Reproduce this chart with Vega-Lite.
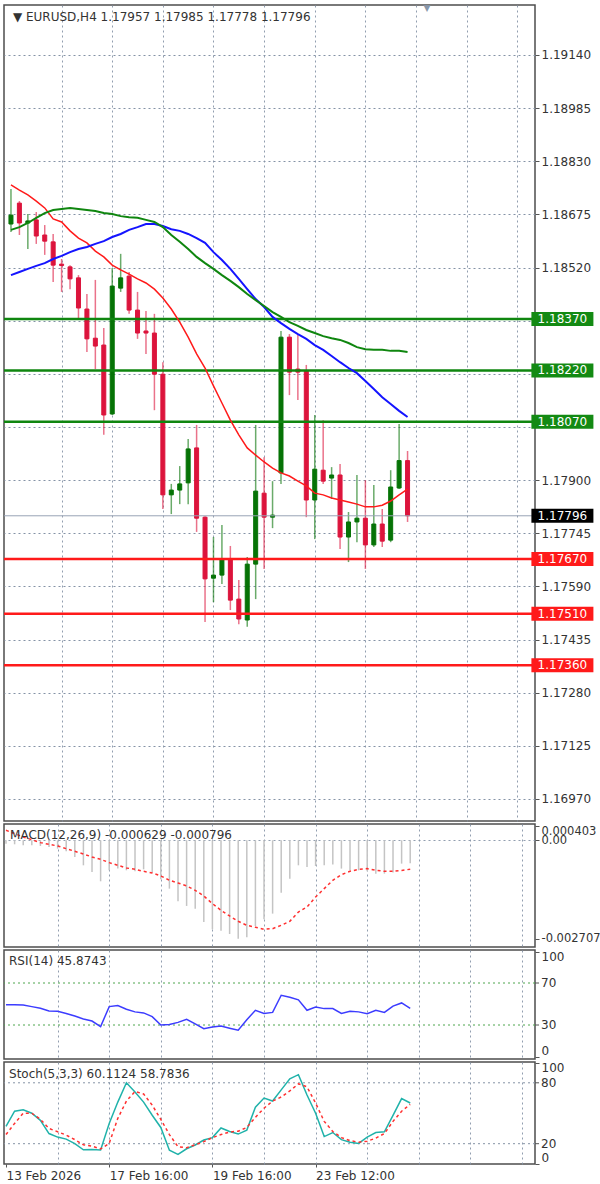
{
  "$schema": "https://vega.github.io/schema/vega-lite/v6.json",
  "background": "white",
  "padding": {"left": 2, "top": 3, "right": 0, "bottom": 0},
  "spacing": 3,
  "bounds": "flush",
  "config": {
    "view": {"stroke": "#4d4d4d", "strokeWidth": 1.5},
    "font": "DejaVu Sans",
    "axis": {
      "labelFont": "DejaVu Sans", "labelFontSize": 12, "labelColor": "#333333",
      "title": null, "domain": false, "gridColor": "#8593a6", "gridDash": [2, 3],
      "gridWidth": 1, "tickColor": "#555555", "tickSize": 4, "labelPadding": 2
    }
  },
  "datasets": {
    "bars": [
      {"i":0,"open":1.18647,"high":1.18749,"low":1.18624,"close":1.18673,"maRed":1.18761,"maBlue":1.18498,"maGreen":1.18630,"macd":-0.000092,"signal":0.000275,"rsi":49.3,"k":37,"d":29},
      {"i":1,"open":1.18708,"high":1.18714,"low":1.18615,"close":1.18650,"maRed":1.18746,"maBlue":1.18507,"maGreen":1.18638,"macd":-0.000110,"signal":0.000183,"rsi":49.3,"k":52,"d":40},
      {"i":2,"open":1.18650,"high":1.18676,"low":1.18574,"close":1.18656,"maRed":1.18732,"maBlue":1.18516,"maGreen":1.18650,"macd":-0.000138,"signal":0.000092,"rsi":49.0,"k":53.5,"d":50},
      {"i":3,"open":1.18659,"high":1.18682,"low":1.18589,"close":1.18612,"maRed":1.18714,"maBlue":1.18525,"maGreen":1.18665,"macd":-0.000138,"signal":0.000018,"rsi":47.5,"k":50,"d":50},
      {"i":4,"open":1.18615,"high":1.18644,"low":1.18557,"close":1.18597,"maRed":1.18694,"maBlue":1.18533,"maGreen":1.18679,"macd":-0.000156,"signal":-0.000064,"rsi":46.0,"k":43,"d":44},
      {"i":5,"open":1.18595,"high":1.18618,"low":1.18478,"close":1.18527,"maRed":1.18662,"maBlue":1.18545,"maGreen":1.18688,"macd":-0.000183,"signal":-0.000110,"rsi":43.3,"k":30,"d":35},
      {"i":6,"open":1.18530,"high":1.18545,"low":1.18449,"close":1.18526,"maRed":1.18653,"maBlue":1.18554,"maGreen":1.18691,"macd":-0.000229,"signal":-0.000156,"rsi":43.0,"k":26.5,"d":31.8},
      {"i":7,"open":1.18522,"high":1.18527,"low":1.18457,"close":1.18487,"maRed":1.18627,"maBlue":1.18565,"maGreen":1.18694,"macd":-0.000303,"signal":-0.000229,"rsi":41.0,"k":24.5,"d":28.5},
      {"i":8,"open":1.18490,"high":1.18498,"low":1.18367,"close":1.18402,"maRed":1.18606,"maBlue":1.18574,"maGreen":1.18691,"macd":-0.000459,"signal":-0.000303,"rsi":38.5,"k":20,"d":24},
      {"i":9,"open":1.18399,"high":1.18443,"low":1.18274,"close":1.18312,"maRed":1.18592,"maBlue":1.18580,"maGreen":1.18688,"macd":-0.000688,"signal":-0.000376,"rsi":35.8,"k":14,"d":19},
      {"i":10,"open":1.18314,"high":1.18484,"low":1.18224,"close":1.18291,"maRed":1.18568,"maBlue":1.18589,"maGreen":1.18685,"macd":-0.000871,"signal":-0.000459,"rsi":33.8,"k":14.4,"d":17.7},
      {"i":11,"open":1.18294,"high":1.18344,"low":1.18032,"close":1.18090,"maRed":1.18551,"maBlue":1.18597,"maGreen":1.18679,"macd":-0.001128,"signal":-0.000523,"rsi":28.5,"k":13.8,"d":14.8},
      {"i":12,"open":1.18093,"high":1.18519,"low":1.18090,"close":1.18466,"maRed":1.18527,"maBlue":1.18609,"maGreen":1.18676,"macd":-0.000825,"signal":-0.000614,"rsi":47.5,"k":40,"d":20.3},
      {"i":13,"open":1.18460,"high":1.18560,"low":1.18449,"close":1.18490,"maRed":1.18513,"maBlue":1.18618,"maGreen":1.18670,"macd":-0.000779,"signal":-0.000688,"rsi":48.5,"k":61,"d":45},
      {"i":14,"open":1.18495,"high":1.18507,"low":1.18385,"close":1.18396,"maRed":1.18501,"maBlue":1.18630,"maGreen":1.18667,"macd":-0.000825,"signal":-0.000761,"rsi":45.0,"k":80,"d":62},
      {"i":15,"open":1.18396,"high":1.18449,"low":1.18312,"close":1.18329,"maRed":1.18487,"maBlue":1.18638,"maGreen":1.18665,"macd":-0.000853,"signal":-0.000798,"rsi":42.5,"k":71,"d":71.5},
      {"i":16,"open":1.18335,"high":1.18393,"low":1.18268,"close":1.18329,"maRed":1.18475,"maBlue":1.18647,"maGreen":1.18659,"macd":-0.000798,"signal":-0.000853,"rsi":41.5,"k":61,"d":69},
      {"i":17,"open":1.18329,"high":1.18385,"low":1.18104,"close":1.18209,"maRed":1.18457,"maBlue":1.18647,"maGreen":1.18653,"macd":-0.000889,"signal":-0.000899,"rsi":38.0,"k":48,"d":58},
      {"i":18,"open":1.18209,"high":1.18244,"low":1.17816,"close":1.17857,"maRed":1.18431,"maBlue":1.18641,"maGreen":1.18638,"macd":-0.001073,"signal":-0.000981,"rsi":30.0,"k":36,"d":44},
      {"i":19,"open":1.17857,"high":1.17889,"low":1.17801,"close":1.17871,"maRed":1.18399,"maBlue":1.18632,"maGreen":1.18615,"macd":-0.001330,"signal":-0.001100,"rsi":30.5,"k":13.5,"d":29},
      {"i":20,"open":1.17871,"high":1.17941,"low":1.17830,"close":1.17889,"maRed":1.18361,"maBlue":1.18627,"maGreen":1.18595,"macd":-0.001678,"signal":-0.001174,"rsi":32.5,"k":9.5,"d":17},
      {"i":21,"open":1.17892,"high":1.18020,"low":1.17830,"close":1.17991,"maRed":1.18317,"maBlue":1.18618,"maGreen":1.18574,"macd":-0.001806,"signal":-0.001256,"rsi":35.5,"k":15,"d":16},
      {"i":22,"open":1.17994,"high":1.18061,"low":1.17749,"close":1.17789,"maRed":1.18268,"maBlue":1.18606,"maGreen":1.18551,"macd":-0.001880,"signal":-0.001376,"rsi":31.0,"k":18.7,"d":19},
      {"i":23,"open":1.17792,"high":1.17795,"low":1.17486,"close":1.17612,"maRed":1.18227,"maBlue":1.18592,"maGreen":1.18533,"macd":-0.002247,"signal":-0.001531,"rsi":26.5,"k":23.6,"d":22},
      {"i":24,"open":1.17614,"high":1.17734,"low":1.17544,"close":1.17623,"maRed":1.18175,"maBlue":1.18565,"maGreen":1.18516,"macd":-0.002448,"signal":-0.001742,"rsi":28.0,"k":26,"d":26},
      {"i":25,"open":1.17623,"high":1.17769,"low":1.17597,"close":1.17670,"maRed":1.18125,"maBlue":1.18542,"maGreen":1.18498,"macd":-0.002485,"signal":-0.001926,"rsi":29.0,"k":35.5,"d":29},
      {"i":26,"open":1.17670,"high":1.17708,"low":1.17521,"close":1.17550,"maRed":1.18075,"maBlue":1.18516,"maGreen":1.18481,"macd":-0.002577,"signal":-0.002082,"rsi":27.0,"k":32,"d":31.5},
      {"i":27,"open":1.17553,"high":1.17609,"low":1.17480,"close":1.17495,"maRed":1.18032,"maBlue":1.18487,"maGreen":1.18463,"macd":-0.002705,"signal":-0.002228,"rsi":25.0,"k":29.5,"d":32.3},
      {"i":28,"open":1.17492,"high":1.17676,"low":1.17472,"close":1.17655,"maRed":1.17994,"maBlue":1.18457,"maGreen":1.18443,"macd":-0.002668,"signal":-0.002338,"rsi":35.0,"k":33.4,"d":36},
      {"i":29,"open":1.17655,"high":1.18061,"low":1.17553,"close":1.17868,"maRed":1.17973,"maBlue":1.18428,"maGreen":1.18425,"macd":-0.002357,"signal":-0.002393,"rsi":44.0,"k":56,"d":46},
      {"i":30,"open":1.17862,"high":1.17967,"low":1.17641,"close":1.17792,"maRed":1.17953,"maBlue":1.18405,"maGreen":1.18408,"macd":-0.002173,"signal":-0.002448,"rsi":41.0,"k":65,"d":55},
      {"i":31,"open":1.17792,"high":1.17897,"low":1.17760,"close":1.17798,"maRed":1.17935,"maBlue":1.18376,"maGreen":1.18390,"macd":-0.002017,"signal":-0.002430,"rsi":42.0,"k":62,"d":62},
      {"i":32,"open":1.17921,"high":1.18335,"low":1.17889,"close":1.18317,"maRed":1.17921,"maBlue":1.18358,"maGreen":1.18376,"macd":-0.001440,"signal":-0.002338,"rsi":58.3,"k":73,"d":66},
      {"i":33,"open":1.18317,"high":1.18326,"low":1.18148,"close":1.18215,"maRed":1.17912,"maBlue":1.18341,"maGreen":1.18361,"macd":-0.001055,"signal":-0.002228,"rsi":56.5,"k":84,"d":72},
      {"i":34,"open":1.18224,"high":1.18323,"low":1.18134,"close":1.18215,"maRed":1.17897,"maBlue":1.18326,"maGreen":1.18350,"macd":-0.000688,"signal":-0.001972,"rsi":54.0,"k":88,"d":79},
      {"i":35,"open":1.18218,"high":1.18236,"low":1.17792,"close":1.17842,"maRed":1.17883,"maBlue":1.18312,"maGreen":1.18338,"macd":-0.000734,"signal":-0.001834,"rsi":44.0,"k":68,"d":76},
      {"i":36,"open":1.17842,"high":1.18090,"low":1.17728,"close":1.17932,"maRed":1.17862,"maBlue":1.18294,"maGreen":1.18329,"macd":-0.000706,"signal":-0.001559,"rsi":47.1,"k":50,"d":60},
      {"i":37,"open":1.17929,"high":1.18075,"low":1.17889,"close":1.17897,"maRed":1.17857,"maBlue":1.18280,"maGreen":1.18320,"macd":-0.000688,"signal":-0.001330,"rsi":45.6,"k":27,"d":42},
      {"i":38,"open":1.17906,"high":1.17938,"low":1.17845,"close":1.17915,"maRed":1.17848,"maBlue":1.18262,"maGreen":1.18314,"macd":-0.000669,"signal":-0.001100,"rsi":45.6,"k":31,"d":32},
      {"i":39,"open":1.17915,"high":1.17947,"low":1.17699,"close":1.17734,"maRed":1.17842,"maBlue":1.18244,"maGreen":1.18309,"macd":-0.000779,"signal":-0.000944,"rsi":41.0,"k":24,"d":26},
      {"i":40,"open":1.17734,"high":1.17807,"low":1.17661,"close":1.17778,"maRed":1.17836,"maBlue":1.18227,"maGreen":1.18300,"macd":-0.000825,"signal":-0.000853,"rsi":43.0,"k":21.5,"d":23},
      {"i":41,"open":1.17778,"high":1.17915,"low":1.17719,"close":1.17789,"maRed":1.17830,"maBlue":1.18212,"maGreen":1.18288,"macd":-0.000825,"signal":-0.000798,"rsi":42.5,"k":20.3,"d":21.5},
      {"i":42,"open":1.17789,"high":1.17900,"low":1.17641,"close":1.17711,"maRed":1.17822,"maBlue":1.18189,"maGreen":1.18282,"macd":-0.000853,"signal":-0.000779,"rsi":40.8,"k":26.5,"d":22.5},
      {"i":43,"open":1.17711,"high":1.17886,"low":1.17705,"close":1.17772,"maRed":1.17822,"maBlue":1.18166,"maGreen":1.18280,"macd":-0.000917,"signal":-0.000825,"rsi":44.0,"k":31,"d":25.5},
      {"i":44,"open":1.17772,"high":1.17816,"low":1.17705,"close":1.17722,"maRed":1.17827,"maBlue":1.18142,"maGreen":1.18280,"macd":-0.000917,"signal":-0.000853,"rsi":42.0,"k":31.8,"d":30},
      {"i":45,"open":1.17725,"high":1.17929,"low":1.17719,"close":1.17880,"maRed":1.17839,"maBlue":1.18122,"maGreen":1.18277,"macd":-0.000889,"signal":-0.000853,"rsi":48.0,"k":48,"d":42},
      {"i":46,"open":1.17877,"high":1.18064,"low":1.17874,"close":1.17957,"maRed":1.17857,"maBlue":1.18102,"maGreen":1.18277,"macd":-0.000642,"signal":-0.000830,"rsi":51.0,"k":64.5,"d":52},
      {"i":47,"open":1.17957,"high":1.17985,"low":1.17778,"close":1.17796,"maRed":1.17874,"maBlue":1.18084,"maGreen":1.18274,"macd":-0.000629,"signal":-0.000796,"rsi":45.87,"k":60.11,"d":58.78}
    ],
    "levels": [
      {"price": 1.18370, "kind": "res"},
      {"price": 1.18220, "kind": "res"},
      {"price": 1.18070, "kind": "res"},
      {"price": 1.17670, "kind": "sup"},
      {"price": 1.17510, "kind": "sup"},
      {"price": 1.17360, "kind": "sup"}
    ],
    "last": [{"price": 1.17796}],
    "rsiLevels": [{"lvl": 70}, {"lvl": 30}],
    "stochLevels": [{"lvl": 80}, {"lvl": 20}]
  },
  "vconcat": [
    {
      "width": 531,
      "height": 816,
      "layer": [
        {
          "data": {"name": "bars"},
          "mark": {"type": "rule", "strokeWidth": 1.5, "opacity": 0.6},
          "encoding": {
            "x": {"field": "i", "type": "quantitative", "scale": {"domain": [-0.233, 61.51], "nice": false, "zero": false},
              "axis": {"values": [0,6,12,18,24,30,36,42,48,54,60], "labels": false, "ticks": false, "grid": true,
                "gridOpacity": {"condition": {"test": "datum.value == 0", "value": 0}, "value": 0.9}}},
            "y": {"field": "low", "type": "quantitative", "scale": {"domain": [1.169058, 1.192858], "nice": false, "zero": false},
              "axis": {"orient": "right", "labelOverlap": false, "grid": true,
                "labelExpr": "(datum.value > 1.1805 && datum.value < 1.1837) ? '' : format(datum.value, '.5f')",
                "values": [1.16970,1.17125,1.17280,1.17435,1.17590,1.17745,1.17900,1.18055,1.18210,1.18365,1.18520,1.18675,1.18830,1.18985,1.19140]}},
            "y2": {"field": "high"},
            "color": {"condition": {"test": "datum.close >= datum.open", "value": "#067306"}, "value": "#dc143c"}
          }
        },
        {
          "data": {"name": "bars"},
          "mark": {"type": "bar", "size": 4, "strokeWidth": 1},
          "encoding": {
            "x": {"field": "i", "type": "quantitative"},
            "y": {"field": "open", "type": "quantitative"},
            "y2": {"field": "close"},
            "color": {"condition": {"test": "datum.close >= datum.open", "value": "#067306"}, "value": "#dc143c"},
            "stroke": {"condition": {"test": "datum.close >= datum.open", "value": "#067306"}, "value": "#dc143c"}
          }
        },
        {
          "data": {"name": "levels"},
          "mark": {"type": "rule", "strokeWidth": 2.5},
          "encoding": {
            "y": {"field": "price", "type": "quantitative"},
            "color": {"condition": {"test": "datum.kind == 'res'", "value": "#0f860f"}, "value": "#ff1a1a"}
          }
        },
        {
          "data": {"name": "last"},
          "mark": {"type": "rule", "strokeWidth": 1, "color": "#98a4b5"},
          "encoding": {"y": {"field": "price", "type": "quantitative"}}
        },
        {
          "data": {"name": "bars"},
          "mark": {"type": "line", "color": "#ff1a1a", "strokeWidth": 1.5},
          "encoding": {"x": {"field": "i", "type": "quantitative"}, "y": {"field": "maRed", "type": "quantitative"}}
        },
        {
          "data": {"name": "bars"},
          "mark": {"type": "line", "color": "#1414ff", "strokeWidth": 2},
          "encoding": {"x": {"field": "i", "type": "quantitative"}, "y": {"field": "maBlue", "type": "quantitative"}}
        },
        {
          "data": {"name": "bars"},
          "mark": {"type": "line", "color": "#0f860f", "strokeWidth": 2},
          "encoding": {"x": {"field": "i", "type": "quantitative"}, "y": {"field": "maGreen", "type": "quantitative"}}
        },
        {
          "data": {"name": "levels"},
          "mark": {"type": "tick", "orient": "horizontal", "size": 62, "thickness": 14, "opacity": 1},
          "encoding": {
            "x": {"datum": 65.35},
            "y": {"field": "price", "type": "quantitative"},
            "color": {"condition": {"test": "datum.kind == 'res'", "value": "#138a13"}, "value": "#ff1a1a"}
          }
        },
        {
          "data": {"name": "last"},
          "mark": {"type": "tick", "orient": "horizontal", "size": 62, "thickness": 14, "opacity": 1, "color": "#000000"},
          "encoding": {"x": {"datum": 65.35}, "y": {"field": "price", "type": "quantitative"}}
        },
        {
          "data": {"name": "levels"},
          "mark": {"type": "text", "color": "white", "fontSize": 12, "align": "center", "baseline": "middle"},
          "encoding": {"x": {"datum": 65.35}, "y": {"field": "price", "type": "quantitative"}, "text": {"field": "price", "type": "quantitative", "format": ".5f"}}
        },
        {
          "data": {"name": "last"},
          "mark": {"type": "text", "color": "white", "fontSize": 12, "align": "center", "baseline": "middle"},
          "encoding": {"x": {"datum": 65.35}, "y": {"field": "price", "type": "quantitative"}, "text": {"field": "price", "type": "quantitative", "format": ".5f"}}
        },
        {
          "data": {"values": [{}]},
          "mark": {"type": "text", "align": "left", "baseline": "middle", "fontSize": 12, "color": "#333333"},
          "encoding": {"x": {"datum": 0.23}, "y": {"datum": 1.192508}, "text": {"value": "▼ EURUSD,H4  1.17957 1.17985 1.17778 1.17796"}}
        },
        {
          "data": {"values": [{}]},
          "mark": {"type": "text", "align": "center", "baseline": "middle", "fontSize": 9, "color": "#8897aa"},
          "encoding": {"x": {"datum": 49.3}, "y": {"datum": 1.19276}, "text": {"value": "▼"}}
        }
      ]
    },
    {
      "width": 531,
      "height": 123,
      "layer": [
        {
          "data": {"name": "bars"},
          "mark": {"type": "rule", "strokeWidth": 1.5, "color": "#c4c4c4"},
          "encoding": {
            "x": {"field": "i", "type": "quantitative", "scale": {"domain": [-0.233, 61.51], "nice": false, "zero": false},
              "axis": {"values": [0,6,12,18,24,30,36,42,48,54,60], "labels": false, "ticks": false, "grid": true,
                "gridOpacity": {"condition": {"test": "datum.value == 0", "value": 0}, "value": 0.9}}},
            "y": {"field": "macd", "type": "quantitative", "scale": {"domain": [-0.002935, 0.000448], "nice": false, "zero": false},
              "axis": {"orient": "right", "values": [0.000403, 0, -0.002707], "labelOverlap": false, "grid": true,
                "labelFontSize": 11.5,
                "labelExpr": "datum.value == 0 ? '0.00' : datum.value < 0 ? '-' + format(-datum.value, '.6f') : format(datum.value, '.6f')",
                "labelBaseline": {"condition": {"test": "datum.value > 0.0002", "value": "top"}, "value": "middle"},
                "gridOpacity": {"condition": {"test": "datum.value == 0", "value": 0.9}, "value": 0}}},
            "y2": {"datum": 0}
          }
        },
        {
          "data": {"name": "bars"},
          "mark": {"type": "line", "color": "#ff3030", "strokeWidth": 1.5, "strokeDash": [3, 3]},
          "encoding": {"x": {"field": "i", "type": "quantitative"}, "y": {"field": "signal", "type": "quantitative"}}
        },
        {
          "data": {"values": [{}]},
          "mark": {"type": "text", "align": "left", "baseline": "middle", "fontSize": 12, "color": "#333333"},
          "encoding": {"x": {"datum": 0.47}, "y": {"datum": 0.000145}, "text": {"value": "MACD(12,26,9) -0.000629 -0.000796"}}
        }
      ]
    },
    {
      "width": 531,
      "height": 109,
      "layer": [
        {
          "data": {"name": "rsiLevels"},
          "mark": {"type": "rule", "color": "#4ea64e", "strokeWidth": 1, "strokeDash": [2, 3]},
          "encoding": {
            "y": {"field": "lvl", "type": "quantitative", "scale": {"domain": [-2.38, 101.43], "nice": false, "zero": false},
              "axis": {"orient": "right", "values": [100, 0], "labelOverlap": false, "grid": false,
                "labelBaseline": {"condition": {"test": "datum.value == 100", "value": "top"}, "value": "middle"},
                "labelOffset": {"condition": {"test": "datum.value == 0", "value": -6}, "value": 0}}}
          }
        },
        {
          "data": {"name": "rsiLevels"},
          "mark": {"type": "rule", "color": "#555555", "strokeWidth": 1},
          "encoding": {"x": {"datum": 61.51}, "x2": {"datum": 61.98}, "y": {"field": "lvl", "type": "quantitative"}}
        },
        {
          "data": {"name": "rsiLevels"},
          "mark": {"type": "text", "align": "left", "baseline": "middle", "fontSize": 12, "color": "#333333"},
          "encoding": {"x": {"datum": 62.21}, "y": {"field": "lvl", "type": "quantitative"}, "text": {"field": "lvl", "type": "quantitative"}}
        },
        {
          "data": {"name": "bars"},
          "mark": {"type": "line", "color": "#3c3cff", "strokeWidth": 1.5},
          "encoding": {
            "x": {"field": "i", "type": "quantitative", "scale": {"domain": [-0.233, 61.51], "nice": false, "zero": false},
              "axis": {"values": [0,6,12,18,24,30,36,42,48,54,60], "labels": false, "ticks": false, "grid": true,
                "gridOpacity": {"condition": {"test": "datum.value == 0", "value": 0}, "value": 0.9}}},
            "y": {"field": "rsi", "type": "quantitative"}
          }
        },
        {
          "data": {"values": [{}]},
          "mark": {"type": "text", "align": "left", "baseline": "middle", "fontSize": 12, "color": "#333333"},
          "encoding": {"x": {"datum": 0.35}, "y": {"datum": 90.95}, "text": {"value": "RSI(14) 45.8743"}}
        }
      ]
    },
    {
      "width": 531,
      "height": 102,
      "layer": [
        {
          "data": {"name": "stochLevels"},
          "mark": {"type": "rule", "color": "#8593a6", "strokeWidth": 1, "strokeDash": [2, 3]},
          "encoding": {
            "y": {"field": "lvl", "type": "quantitative", "scale": {"domain": [0, 100.5], "nice": false, "zero": false},
              "axis": {"orient": "right", "values": [100, 0], "labelOverlap": false, "grid": false,
                "labelBaseline": {"condition": {"test": "datum.value == 100", "value": "top"}, "value": "middle"},
                "labelOffset": {"condition": {"test": "datum.value == 0", "value": -7}, "value": 0}}}
          }
        },
        {
          "data": {"name": "stochLevels"},
          "mark": {"type": "rule", "color": "#555555", "strokeWidth": 1},
          "encoding": {"x": {"datum": 61.51}, "x2": {"datum": 61.98}, "y": {"field": "lvl", "type": "quantitative"}}
        },
        {
          "data": {"name": "stochLevels"},
          "mark": {"type": "text", "align": "left", "baseline": "middle", "fontSize": 12, "color": "#333333"},
          "encoding": {"x": {"datum": 62.21}, "y": {"field": "lvl", "type": "quantitative"}, "text": {"field": "lvl", "type": "quantitative"}}
        },
        {
          "data": {"name": "bars"},
          "mark": {"type": "line", "color": "#20b2aa", "strokeWidth": 1.5},
          "encoding": {
            "x": {"field": "i", "type": "quantitative", "scale": {"domain": [-0.233, 61.51], "nice": false, "zero": false},
              "axis": {"values": [0,6,12,18,24,30,36,42,48,54,60], "grid": true,
                "gridOpacity": {"condition": {"test": "datum.value == 0", "value": 0}, "value": 0.9},
                "labelExpr": "datum.value == 0 ? '13 Feb 2026' : datum.value == 12 ? '17 Feb 16:00' : datum.value == 24 ? '19 Feb 16:00' : datum.value == 36 ? '23 Feb 12:00' : ''",
                "labelAlign": "left", "labelFlush": false, "labelOverlap": false, "labelBound": false,
                "tickSize": 3, "labelPadding": 3,
                "tickOpacity": {"condition": {"test": "datum.value % 12 == 0 && datum.value <= 36", "value": 1}, "value": 0}}},
            "y": {"field": "k", "type": "quantitative"}
          }
        },
        {
          "data": {"name": "bars"},
          "mark": {"type": "line", "color": "#ff3030", "strokeWidth": 1.5, "strokeDash": [3, 3]},
          "encoding": {"x": {"field": "i", "type": "quantitative"}, "y": {"field": "d", "type": "quantitative"}}
        },
        {
          "data": {"values": [{}]},
          "mark": {"type": "text", "align": "left", "baseline": "middle", "fontSize": 12, "color": "#333333"},
          "encoding": {"x": {"datum": 0.35}, "y": {"datum": 88.7}, "text": {"value": "Stoch(5,3,3) 60.1124 58.7836"}}
        }
      ]
    }
  ]
}
